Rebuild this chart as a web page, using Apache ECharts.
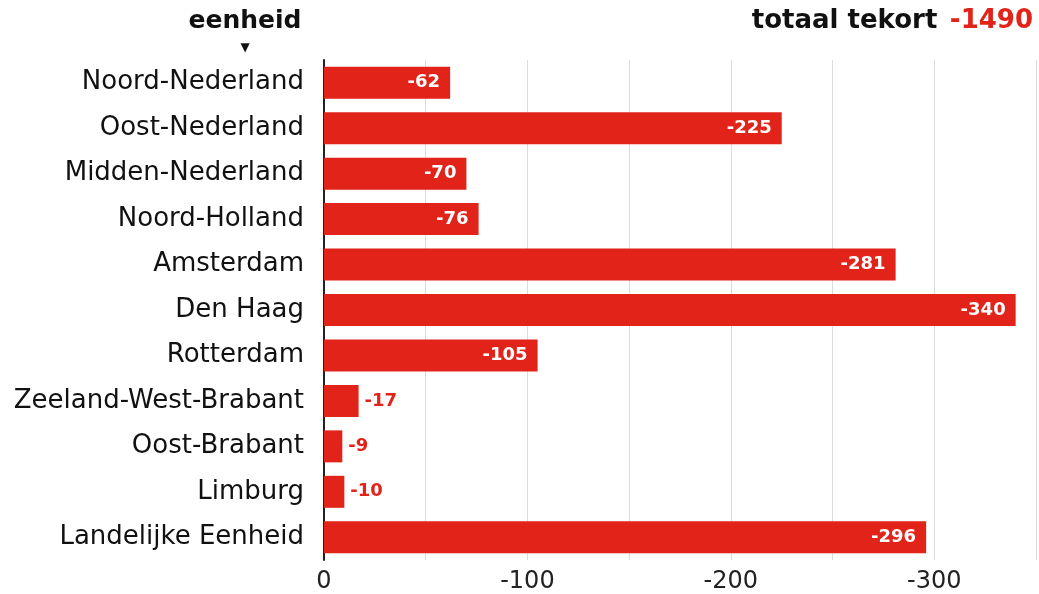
<!DOCTYPE html>
<html>
<head>
<meta charset="utf-8">
<script src="https://cdn.jsdelivr.net/npm/echarts@6/dist/echarts.min.js"></script>
<style>
html,body{margin:0;padding:0;background:#fff;}
#chart{width:1039px;height:594px;}
</style>
</head>
<body>
<div id="chart"></div>
<script>
const categories = ['Noord-Nederland','Oost-Nederland','Midden-Nederland','Noord-Holland','Amsterdam','Den Haag','Rotterdam','Zeeland-West-Brabant','Oost-Brabant','Limburg','Landelijke Eenheid'];
const values = [-62,-225,-70,-76,-281,-340,-105,-17,-9,-10,-296];
const axisTicks = [0,-100,-200,-300];
const totalLabel = 'totaal tekort';
const totalValue = -1490;
const unitTitle = 'eenheid';

const FONT = '"DejaVu Sans", "Noto Sans", sans-serif';
const RED = '#e2231a';

const chart = echarts.init(document.getElementById('chart'));
chart.setOption({
  animation: false,
  backgroundColor: '#fff',
  textStyle: { fontFamily: FONT },
  title: [
    { text: unitTitle, left: 240, top: 4, textAlign: 'center',
      textStyle: { fontFamily: FONT, fontWeight: 'bold', fontSize: 25, color: '#111' } },
    { text: '▼', left: 240, top: 37, textAlign: 'center',
      textStyle: { fontFamily: FONT, fontSize: 12, color: '#111' } },
    { text: '{a|' + totalLabel + '}  {b|' + totalValue + '}', right: 1, top: 3,
      textStyle: { rich: {
        a: { fontFamily: FONT, fontWeight: 'bold', fontSize: 26, color: '#111' },
        b: { fontFamily: FONT, fontWeight: 'bold', fontSize: 26, color: RED }
      } } }
  ],
  grid: { left: 324, right: 1, top: 60, bottom: 33, containLabel: false },
  xAxis: {
    type: 'value', min: -350, max: 0, interval: 50, inverse: true,
    axisLine: { show: false }, axisTick: { show: false },
    splitLine: { show: true, lineStyle: { color: '#dcdcdc', width: 1 } },
    axisLabel: {
      fontFamily: FONT, fontSize: 24, color: '#222', margin: 10,
      formatter: v => axisTicks.indexOf(v) >= 0 ? String(v) : ''
    }
  },
  yAxis: {
    type: 'category', inverse: true, data: categories,
    axisLine: { show: true, lineStyle: { color: '#222', width: 2 } },
    axisTick: { show: false },
    axisLabel: { fontFamily: FONT, fontSize: 26, color: '#111', margin: 20 }
  },
  series: [{
    type: 'bar',
    barWidth: 32,
    itemStyle: { color: RED },
    data: values.map(v => {
      const small = Math.abs(v) < 40;
      return {
        value: v,
        label: {
          show: true,
          position: small ? 'right' : 'insideRight',
          distance: small ? 6 : 10,
          color: small ? RED : '#fff',
          fontFamily: FONT, fontWeight: 'bold', fontSize: 18,
          formatter: '{c}'
        }
      };
    })
  }]
});
</script>
</body>
</html>
